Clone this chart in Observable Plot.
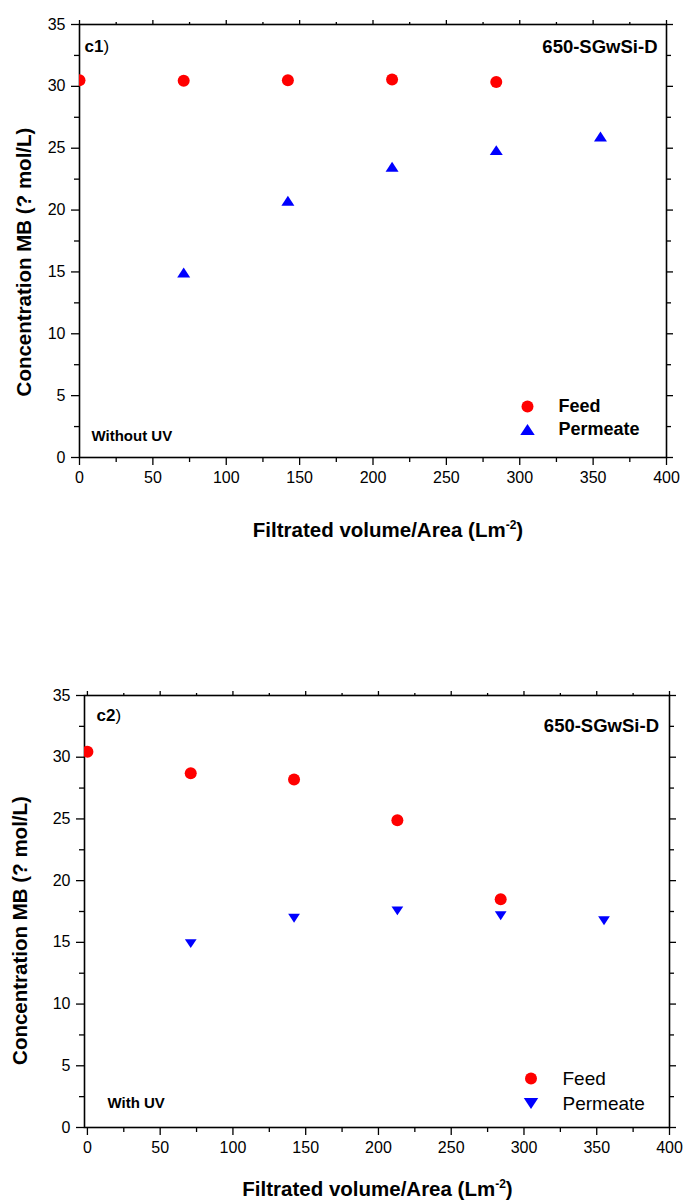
<!DOCTYPE html>
<html>
<head>
<meta charset="utf-8">
<script src="https://cdn.jsdelivr.net/npm/d3@7"></script>
<script src="https://cdn.jsdelivr.net/npm/@observablehq/plot@0.6"></script>
<style>
html, body { margin: 0; padding: 0; background: #fff; }
#charts svg { display: block; }
</style>
</head>
<body>
<div id="charts"></div>
<script>
// ---------- data ----------
const volume = [0, 71, 142, 213, 284, 355];            // Filtrated volume/Area (L m^-2)
const feedWithoutUV = [30.5, 30.45, 30.5, 30.55, 30.35];     // at volume[0..4]
const permeateWithoutUV = [14.95, 20.75, 23.5, 24.85, 25.95]; // at volume[1..5]
const feedWithUV = [30.45, 28.7, 28.2, 24.9, 18.5];          // at volume[0..4]
const permeateWithUV = [14.9, 16.95, 17.55, 17.15, 16.75];   // at volume[1..5]

const xMajorTicks = [0, 50, 100, 150, 200, 250, 300, 350, 400];
const xMinorTicks = [25, 75, 125, 175, 225, 275, 325, 375];
const yMajorTicks = [0, 5, 10, 15, 20, 25, 30, 35];
const yMinorTicks = [2.5, 7.5, 12.5, 17.5, 22.5, 27.5, 32.5];

const seriesNames = ["Feed", "Permeate"];
const seriesColors = ["#ff0000", "#0000ff"];
const sampleName = "650-SGwSi-D";
const panelLabels = ["c1", "c2"];
const conditions = ["Without UV", "With UV"];
const xTitle = "Filtrated volume/Area (Lm-2)";
const yTitle = "Concentration MB (? mol/L)";

// ---------- helpers ----------
const FONT = "'Liberation Sans', Arial, Helvetica, sans-serif";

function triangle(down) {
  return {
    draw(ctx, size) {
      const r = Math.sqrt(size / Math.PI);
      const w = r * 1.25, h = r * 1.9;
      const s = down ? -1 : 1;
      ctx.moveTo(0, -s * h / 2);
      ctx.lineTo(w, s * h / 2);
      ctx.lineTo(-w, s * h / 2);
      ctx.closePath();
    }
  };
}

function makeChart(cfg) {
  const feedData = cfg.feed.map((v, i) => ({x: volume[i], y: v}));
  const permData = cfg.perm.map((v, i) => ({x: volume[i + 1], y: v}));
  const permSymbol = triangle(cfg.down);
  const noText = () => "";
  const txt = (data, opts) => Plot.text(data, {text: d => d, lineAnchor: "middle", ...opts});
  const svg = Plot.plot({
    width: 683,
    height: cfg.height,
    marginTop: cfg.mt, marginBottom: cfg.mb, marginLeft: cfg.ml, marginRight: cfg.mr,
    style: {fontFamily: FONT, fontSize: "16px", background: "#fff", color: "#000"},
    x: {domain: cfg.xDomain},
    y: {domain: [0, 35]},
    marks: [
      // axes
      Plot.axisY(yMajorTicks, {anchor: "left", tickSize: 8, tickPadding: 6, fontSize: 16, label: null, strokeWidth: 1.3}),
      Plot.axisY(yMinorTicks, {anchor: "left", tickSize: 5, tickFormat: noText, label: null, strokeWidth: 1.3}),
      Plot.axisY(yMajorTicks, {anchor: "right", tickSize: 6, tickFormat: noText, label: null, strokeWidth: 1.3}),
      Plot.axisY(yMinorTicks, {anchor: "right", tickSize: 4, tickFormat: noText, label: null, strokeWidth: 1.3}),
      Plot.axisX(xMajorTicks, {anchor: "bottom", tickSize: 8, tickPadding: 6, fontSize: 16, label: null, strokeWidth: 1.3}),
      Plot.axisX(xMinorTicks, {anchor: "bottom", tickSize: 5, tickFormat: noText, label: null, strokeWidth: 1.3}),
      Plot.axisX(xMajorTicks, {anchor: "top", tickSize: 5, tickFormat: noText, label: null, strokeWidth: 1.3}),
      Plot.axisX(xMinorTicks, {anchor: "top", tickSize: 3, tickFormat: noText, label: null, strokeWidth: 1.3}),
      Plot.frame({stroke: "#000", strokeWidth: 1.6}),
      // data
      Plot.dot(feedData, {x: "x", y: "y", r: 6, fill: seriesColors[0], symbol: "circle", clip: true}),
      Plot.dot(permData, {x: "x", y: "y", r: cfg.triR, fill: seriesColors[1], symbol: permSymbol, clip: true}),
      // legend
      Plot.dot([seriesNames[0]], {frameAnchor: "bottom-right", dx: cfg.legDx, dy: cfg.legDy1, r: 6, fill: seriesColors[0], symbol: "circle"}),
      Plot.dot([seriesNames[1]], {frameAnchor: "bottom-right", dx: cfg.legDx, dy: cfg.legDy2, r: 5.8, fill: seriesColors[1], symbol: permSymbol}),
      txt([seriesNames[0]], {frameAnchor: "bottom-right", dx: cfg.legTextDx, dy: cfg.legDy1, textAnchor: "start", fontSize: cfg.legFont, fontWeight: cfg.legWeight}),
      txt([seriesNames[1]], {frameAnchor: "bottom-right", dx: cfg.legTextDx, dy: cfg.legDy2, textAnchor: "start", fontSize: cfg.legFont, fontWeight: cfg.legWeight}),
      // annotations
      txt([cfg.panel], {frameAnchor: "top-left", dx: cfg.panelDx, dy: cfg.panelDy, textAnchor: "start", fontSize: 17, fontWeight: "bold"}),
      txt([")"], {frameAnchor: "top-left", dx: cfg.panelDx + 19, dy: cfg.panelDy, textAnchor: "start", fontSize: 17}),
      txt([sampleName], {frameAnchor: "top-right", dx: cfg.nameDx, dy: cfg.nameDy, textAnchor: "end", fontSize: 18.5, fontWeight: "bold"}),
      txt([cfg.condition], {frameAnchor: "bottom-left", dx: cfg.condDx, dy: cfg.condDy, textAnchor: "start", fontSize: 15, fontWeight: "bold"}),
      // axis titles
      txt([yTitle], {frameAnchor: "left", rotate: -90, textAnchor: "middle", dx: cfg.yTitleDx, dy: cfg.yTitleDy, fontSize: 20.5, fontWeight: "bold"}),
      txt([xTitle], {frameAnchor: "bottom", textAnchor: "middle", dx: cfg.xTitleDx, dy: cfg.xTitleDy, fontSize: 20.5, fontWeight: "bold", className: "xtitle"})
    ]
  });
  // superscript in x title
  d3.select(svg).selectAll("g.xtitle text").each(function () {
    const t = d3.select(this);
    const full = t.text();
    const m = full.match(/^(.*Lm)(-2)(\))$/);
    if (!m) return;
    t.text("");
    t.append("tspan").text(m[1]);
    t.append("tspan").attr("dy", -8).attr("font-size", 12).text(m[2]);
    t.append("tspan").attr("dy", 8).text(m[3]);
  });
  return svg;
}

const root = document.getElementById("charts");
root.appendChild(makeChart({
  feed: feedWithoutUV, perm: permeateWithoutUV, down: false, triR: 5.2,
  height: 560, mt: 24, mb: 103, ml: 79, mr: 17, xDomain: [0, 400],
  legDx: -139, legDy1: -51, legDy2: -28, legTextDx: -108, legFont: 18, legWeight: "bold",
  panel: panelLabels[0], panelDx: 5, panelDy: 22,
  nameDx: -9, nameDy: 23,
  condition: conditions[0], condDx: 12, condDy: -21,
  yTitleDx: -55, yTitleDy: 21, xTitleDx: 15, xTitleDy: 73
}));
root.appendChild(makeChart({
  feed: feedWithUV, perm: permeateWithUV, down: true, triR: 4.7,
  height: 643, mt: 135, mb: 76, ml: 84, mr: 14, xDomain: [-2, 400],
  legDx: -138.5, legDy1: -49, legDy2: -24, legTextDx: -107, legFont: 19, legWeight: "normal",
  panel: panelLabels[1], panelDx: 12, panelDy: 20,
  nameDx: -10.5, nameDy: 31,
  condition: conditions[1], condDx: 23, condDy: -24,
  yTitleDx: -64, yTitleDy: 19, xTitleDx: 0.5, xTitleDy: 62
}));
</script>
</body>
</html>
